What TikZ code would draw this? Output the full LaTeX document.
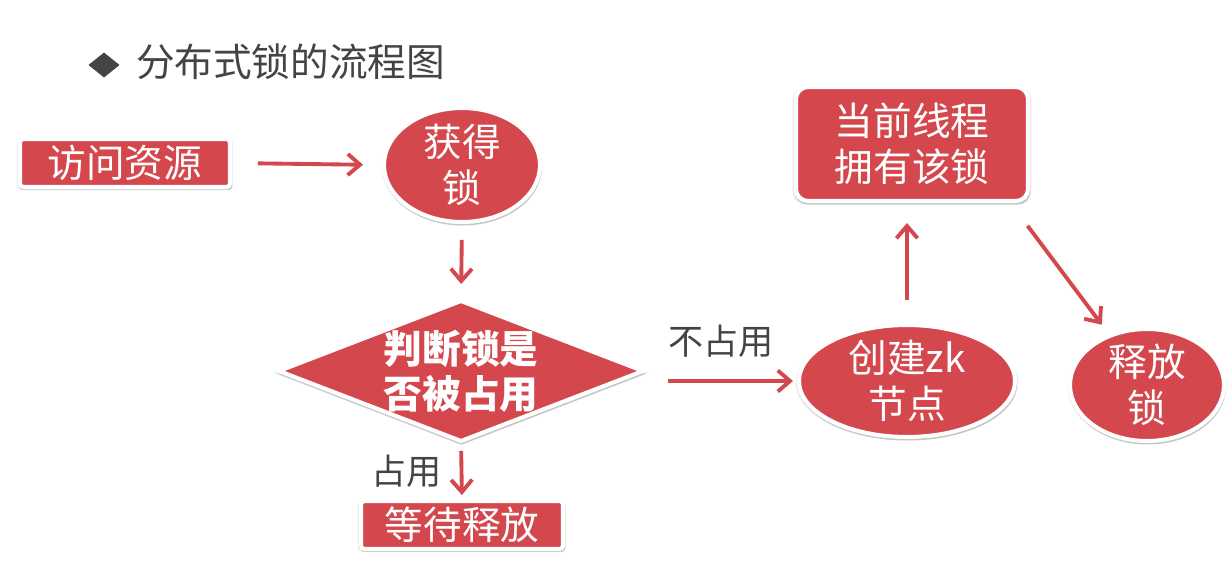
\documentclass[tikz,border=0pt]{standalone}
\usepackage{fontspec}
\setmainfont{Noto Sans CJK SC}
\usetikzlibrary{shapes.geometric,shadows,arrows.meta}
\definecolor{lockred}{RGB}{212,71,77}
\definecolor{textgray}{RGB}{68,68,68}
\tikzstyle{every node}=[font=\fontsize{22}{26}\selectfont, inner sep=0, outer sep=0]
\tikzstyle{redshape}=[fill=lockred, draw=white, line width=2.3pt, text=white, align=center,
	drop shadow={shadow xshift=0pt, shadow yshift=-1pt, shadow scale=1.03, fill=black, opacity=0.08},
	drop shadow={shadow xshift=0.4pt, shadow yshift=-1.6pt, shadow scale=1.012, fill=black, opacity=0.16}]
\tikzstyle{redbox}=[redshape, rectangle, rounded corners=2pt]
\tikzstyle{redoval}=[redshape, ellipse, inner ysep=-3pt]
\tikzstyle{reddiamond}=[redshape, diamond, aspect=2.6, inner sep=-2pt, font=\bfseries\fontsize{22}{25.5}\selectfont]
\tikzstyle{flow}=[lockred, line width=2.2pt, -{Straight Barb[length=7pt,width=12pt]}]
\tikzstyle{lbl}=[text=textgray, font=\fontsize{20}{24}\selectfont]

\begin{document}
\begin{tikzpicture}[x=0.02cm, y=-0.02cm]
		\useasboundingbox (0,0) rectangle (1232,565);
		\node[diamond, fill=textgray, minimum width=0.62cm, minimum height=0.5cm] (bullet) at (104,65) {};
		\node[anchor=west, text=textgray] (title) at (136,62) {分布式锁的流程图};
		\node[redbox, minimum width=4.2cm, minimum height=0.96cm] (access) at (125,163) {访问资源};
		\node[redoval, minimum width=3.12cm, minimum height=2.28cm] (get) at (462,165) {获得\\锁};
		\node[reddiamond, minimum width=7.28cm, minimum height=2.8cm] (judge) at (461,371) {判断锁是\\否被占用};
		\node[redbox, minimum width=4.04cm, minimum height=0.96cm] (wait) at (462,525) {等待释放};
		\node[redoval, minimum width=4.32cm, minimum height=2.24cm] (create) at (907,381) {创建zk\\节点};
		\node[redbox, rounded corners=0.24cm, minimum width=4.64cm, minimum height=2.28cm] (own) at (912,144) {当前线程\\拥有该锁};
		\node[redoval, minimum width=3.08cm, minimum height=2.24cm] (release) at (1147,385) {释放\\锁};
		\coordinate (ownout) at ([xshift=-0.38cm]own.south east);
		\draw[flow, shorten <=0.56cm, shorten >=0.42cm] (access.east) -- (get.west);
		\draw[flow, shorten <=0.36cm, shorten >=0.34cm] (get.south) -- (judge.north);
		\draw[flow, shorten <=0.2cm, shorten >=0.12cm] (judge.south) -- node[lbl, left=0.4cm] {占用} (wait.north);
		\draw[flow, shorten <=0.5cm, shorten >=0.12cm] (judge.east |- create.west) -- node[lbl, above=0.48cm] {不占用} (create.west);
		\draw[flow, shorten <=0.5cm, shorten >=0.44cm] (create.north) -- (create.north |- own.south);
		\draw[flow, shorten <=0.62cm, shorten >=0.28cm] (ownout) -- (release);
	\end{tikzpicture}
\end{document}
